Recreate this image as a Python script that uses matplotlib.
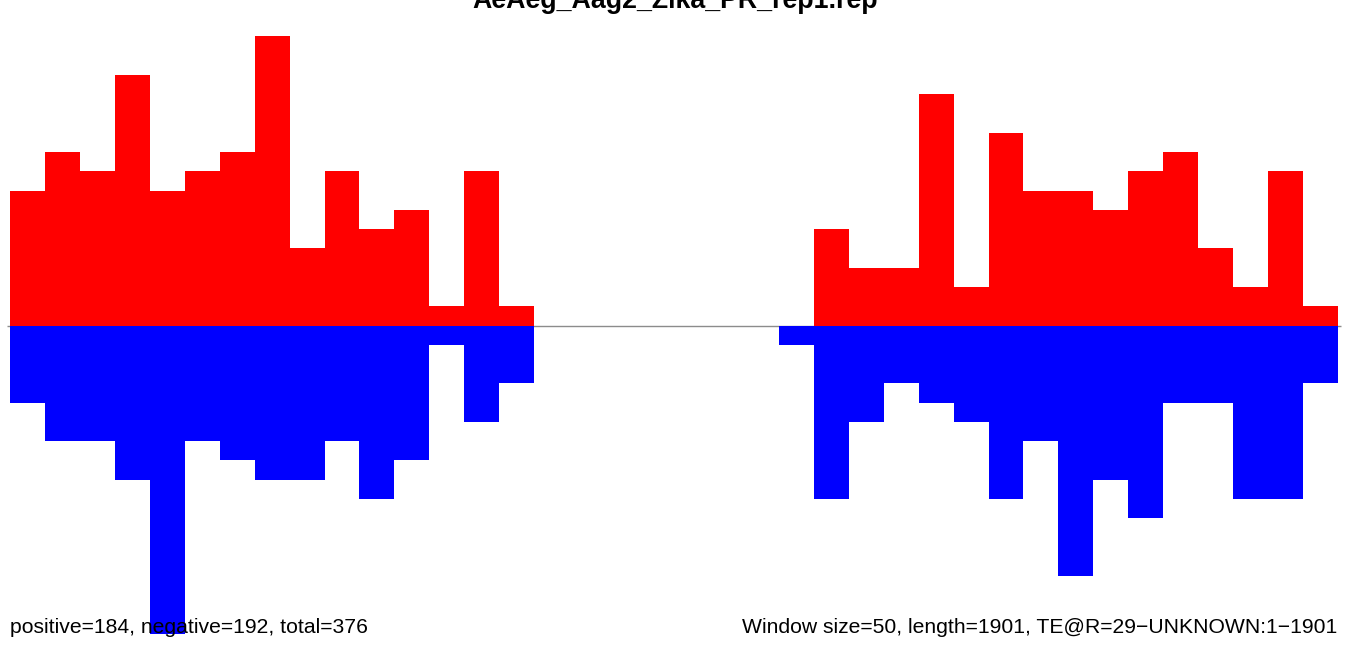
import matplotlib
matplotlib.use("Agg")
import matplotlib.pyplot as plt
import numpy as np

plt.rcParams["font.family"] = ["Liberation Sans", "DejaVu Sans"]

# Dados: contagens por janela (tamanho 50) ao longo do TE de 1901 bp
window = 50
length = 1901
positive = [7, 9, 8, 13, 7, 8, 9, 15, 4, 8, 5, 6, 1, 8, 1,
            0, 0, 0, 0, 0, 0, 0,
            0, 5, 3, 3, 12, 2, 10, 7, 7, 6, 8, 9, 4, 2, 8, 1]
negative = [4, 6, 6, 8, 16, 6, 7, 8, 8, 6, 9, 7, 1, 5, 3,
            0, 0, 0, 0, 0, 0, 0,
            1, 9, 5, 3, 4, 5, 9, 6, 13, 8, 10, 4, 4, 9, 9, 3]
title = "AeAeg_Aag2_Zika_PR_rep1.rep"
left_label = "positive=184, negative=192, total=376"
right_label = "Window size=50, length=1901, TE@R=29\u2212UNKNOWN:1\u22121901"

starts = np.arange(len(positive)) * window
n_bins_span = len(positive) * window

W, H = 1350, 646
fig = plt.figure(figsize=(W / 100, H / 100), dpi=100)
ax = fig.add_axes([0, 0, 1, 1])

# Eixos mapeados para que as barras ocupem de x=10 a x=1338 px
px_per_bp = 1328 / n_bins_span
ax.set_xlim(-10 / px_per_bp, (W - 10) / px_per_bp)
unit = 19.27
ax.set_ylim(-(H - 325.5) / unit, 325.5 / unit)
ax.axis("off")

ax.hlines(0, -4, n_bins_span + 4, color="#8c8c8c", lw=1, zorder=1)
ax.bar(starts, positive, width=window, align="edge", color="#ff0000",
       linewidth=0, antialiased=False, zorder=2)
ax.bar(starts, [-v for v in negative], width=window, align="edge",
       color="#0000ff", linewidth=0, antialiased=False, zorder=2)

fig.text(0.5, 1 - 8 / H, title, ha="center", va="baseline",
         fontsize=19.3, fontweight="bold")
fig.text(10 / W, 13 / H, left_label, ha="left", va="baseline", fontsize=15.2,
         zorder=5)
fig.text(1337 / W, 13 / H, right_label, ha="right", va="baseline",
         fontsize=15.2, zorder=5)

fig.savefig("out.png", dpi=100)
